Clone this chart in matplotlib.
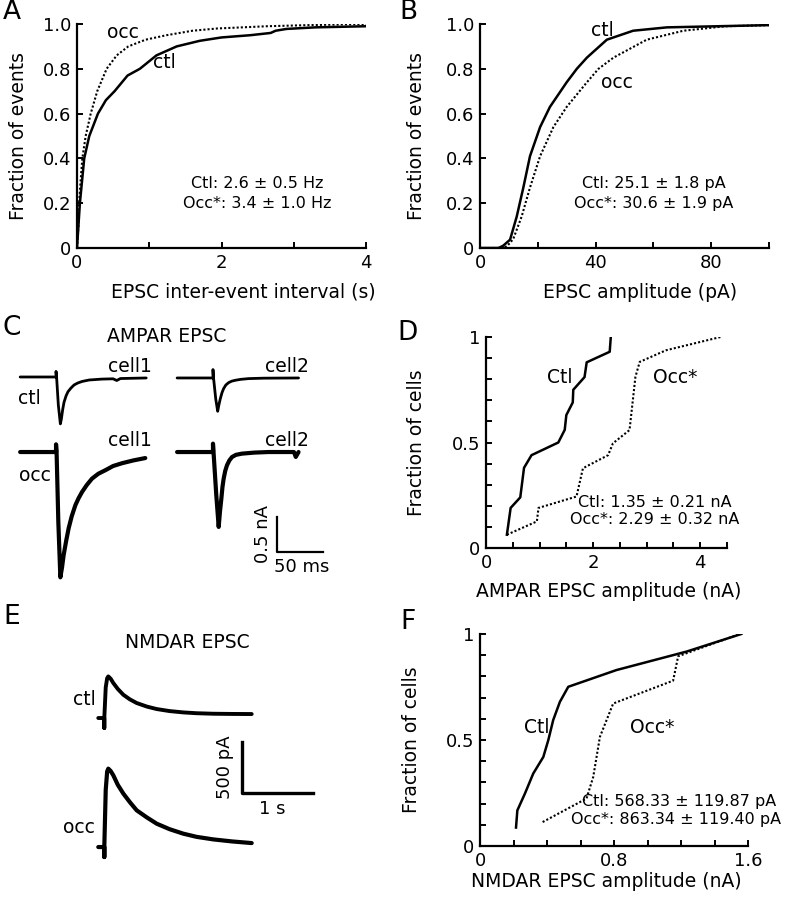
import matplotlib
matplotlib.use("Agg")
import matplotlib.pyplot as plt
import numpy as np

plt.rcParams['font.family'] = ['DejaVu Sans']

W, H = 787, 899

# ---------------- Data ----------------
# Panel A: cumulative inter-event interval (s)
a_ctl_x = [0.0, 0.02, 0.04, 0.07, 0.1, 0.17, 0.29, 0.4, 0.52, 0.7, 0.87, 1.1, 1.38, 1.7, 2.0, 2.4, 2.68, 2.75, 2.9, 3.3, 4.0]
a_ctl_y = [0.0, 0.1, 0.2, 0.3, 0.4, 0.5, 0.6, 0.66, 0.7, 0.77, 0.8, 0.86, 0.9, 0.925, 0.94, 0.95, 0.96, 0.97, 0.978, 0.985, 0.99]
a_occ_x = [0.0, 0.02, 0.03, 0.05, 0.074, 0.12, 0.19, 0.28, 0.41, 0.55, 0.71, 0.95, 1.24, 1.6, 1.94, 2.63, 3.2, 4.0]
a_occ_y = [0.0, 0.1, 0.2, 0.3, 0.4, 0.5, 0.6, 0.7, 0.8, 0.86, 0.9, 0.93, 0.95, 0.97, 0.98, 0.99, 0.995, 1.0]

# Panel B: cumulative EPSC amplitude (pA)
b_ctl_x = [0, 6.4, 8.0, 10.4, 12.7, 15.0, 17.3, 20.8, 24.2, 30.0, 33.5, 37.0, 43.9, 53.0, 64.7, 100]
b_ctl_y = [0, 0.0, 0.01, 0.037, 0.14, 0.27, 0.41, 0.54, 0.63, 0.74, 0.8, 0.85, 0.93, 0.97, 0.985, 0.995]
b_occ_x = [0, 8.1, 9.5, 11.5, 14.4, 17.3, 20.8, 25.4, 30.0, 37.0, 41.0, 46.2, 57.7, 70.4, 85.0, 100]
b_occ_y = [0, 0.0, 0.01, 0.04, 0.14, 0.27, 0.41, 0.54, 0.63, 0.74, 0.8, 0.85, 0.93, 0.97, 0.99, 0.995]

# Panel D: cumulative AMPAR EPSC amplitude per cell (nA)
d_ctl_x = [0.39, 0.46, 0.64, 0.71, 0.85, 1.35, 1.47, 1.50, 1.62, 1.63, 1.84, 1.88, 2.31, 2.33]
d_ctl_y = [0.063, 0.19, 0.24, 0.38, 0.44, 0.50, 0.56, 0.63, 0.69, 0.75, 0.81, 0.88, 0.93, 1.0]
d_occ_x = [0.39, 0.95, 0.98, 1.69, 1.81, 2.28, 2.37, 2.68, 2.79, 2.87, 3.36, 4.38]
d_occ_y = [0.063, 0.126, 0.19, 0.244, 0.378, 0.44, 0.496, 0.559, 0.811, 0.882, 0.937, 1.0]

# Panel F: cumulative NMDAR EPSC amplitude per cell (nA)
f_ctl_x = [0.215, 0.223, 0.268, 0.318, 0.378, 0.408, 0.437, 0.477, 0.527, 0.815, 1.233, 1.56]
f_ctl_y = [0.087, 0.168, 0.247, 0.342, 0.42, 0.50, 0.594, 0.68, 0.751, 0.83, 0.917, 1.0]
f_occ_x = [0.374, 0.636, 0.676, 0.716, 0.795, 1.153, 1.183, 1.55]
f_occ_y = [0.113, 0.224, 0.326, 0.515, 0.672, 0.78, 0.895, 1.0]

# Panel C: AMPAR EPSC traces (time ms from stimulus, current nA from baseline)
c_ctl1_t = [-39, 0, 0, 0.6, 2.5, 4.7, 5.8, 7.3, 8.7, 10.9, 13, 16.3, 19.6, 23.6, 28.3, 35.9, 50, 62, 66, 70, 98]
c_ctl1_i = [0, 0, 0.08, 0, -0.4, -0.67, -0.6, -0.46, -0.36, -0.27, -0.21, -0.157, -0.114, -0.086, -0.064, -0.043, -0.03, -0.026, -0.05, -0.022, -0.014]
c_ctl2_t = [-39, 0, 0, 0.6, 3, 5.1, 6.5, 8.0, 9.8, 11.6, 14, 17.1, 20.5, 24.3, 30, 38.8, 55, 93]
c_ctl2_i = [0, 0, 0.12, 0, -0.3, -0.476, -0.38, -0.294, -0.21, -0.151, -0.1, -0.066, -0.045, -0.033, -0.02, -0.009, -0.003, 0]
c_occ1_t = [-39, 0, 0, 0.6, 2.5, 4.7, 6.5, 8.3, 11, 13.7, 17, 21, 24.5, 28.3, 33.5, 39.1, 46, 53.6, 62, 71.7, 84, 97]
c_occ1_i = [0, 0, 0.11, 0, -1.0, -1.79, -1.65, -1.47, -1.27, -1.09, -0.92, -0.76, -0.66, -0.57, -0.47, -0.38, -0.31, -0.26, -0.2, -0.16, -0.12, -0.086]
c_occ2_t = [-39, 0, 0, 0.6, 3.5, 6.2, 7.6, 9.1, 10.3, 11.6, 13.3, 15.2, 17.8, 20.7, 25, 31.5, 45, 60.5, 88, 90, 93]
c_occ2_i = [0, 0, 0.12, 0, -0.6, -1.07, -0.85, -0.666, -0.5, -0.38, -0.27, -0.19, -0.12, -0.071, -0.04, -0.023, -0.008, 0, 0, -0.07, 0]

# Panel E: NMDAR EPSC traces (time s from stimulus, current pA from baseline)
e_ctl_t = [-0.085, 0, 0, 0.0, 0.02, 0.04, 0.056, 0.09, 0.127, 0.19, 0.268, 0.36, 0.456, 0.6, 0.738, 0.92, 1.113, 1.3, 1.535, 1.8, 2.076]
e_ctl_i = [0, 0, -98, 0, 300, 390, 408, 385, 343, 285, 228, 183, 147, 112, 88, 68, 55, 47, 42, 40, 39]
e_occ_t = [-0.085, 0, 0, 0.0, 0.02, 0.04, 0.056, 0.09, 0.127, 0.19, 0.268, 0.36, 0.456, 0.6, 0.738, 0.92, 1.113, 1.3, 1.535, 1.8, 2.076]
e_occ_i = [0, 0, -98, 0, 560, 740, 769, 745, 703, 610, 524, 440, 360, 290, 229, 175, 131, 100, 75, 55, 39]

FS_TICK = 13
FS_LAB = 13.5
FS_STAT = 11.5
FS_PANEL = 19

fig = plt.figure(figsize=(W / 100, H / 100), dpi=100)


def ax_px(x0, y0, x1, y1):
    return fig.add_axes([x0 / W, 1 - y1 / H, (x1 - x0) / W, (y1 - y0) / H])


def style(ax):
    for s in ['top', 'right']:
        ax.spines[s].set_visible(False)
    for s in ['left', 'bottom']:
        ax.spines[s].set_linewidth(1.6)
    ax.tick_params(which='both', direction='in', width=1.4, labelsize=FS_TICK, pad=4)
    ax.tick_params(which='major', length=4)
    ax.tick_params(which='minor', length=4)


def atext(ax, x, y, s, fs, ha='center'):
    ax.text(x, y, s, fontsize=fs, ha=ha, va='center', transform=ax.transAxes)


# ---------- Panel A ----------
axA = ax_px(77, 24, 366, 248)
style(axA)
axA.plot(a_ctl_x, a_ctl_y, color='black', lw=1.8)
axA.plot(a_occ_x, a_occ_y, color='black', lw=1.5, ls=(0, (1, 1)))
axA.set_xlim(0, 4)
axA.set_ylim(0, 1.0)
axA.set_xticks([0, 2, 4])
axA.set_xticks([1, 3], minor=True)
axA.set_yticks([0, 0.2, 0.4, 0.6, 0.8, 1.0])
axA.set_yticklabels(['0', '0.2', '0.4', '0.6', '0.8', '1.0'])
axA.set_xlabel('EPSC inter-event interval (s)', fontsize=FS_LAB)
axA.set_ylabel('Fraction of events', fontsize=FS_LAB)
axA.xaxis.set_label_coords(0.574, -0.155)
axA.yaxis.set_label_coords(-0.17, 0.5)
atext(axA, 0.159, 0.96, 'occ', FS_LAB)
atext(axA, 0.304, 0.826, 'ctl', FS_LAB)
atext(axA, 0.623, 0.286, 'Ctl: 2.6 ± 0.5 Hz', FS_STAT)
atext(axA, 0.623, 0.2, 'Occ*: 3.4 ± 1.0 Hz', FS_STAT)

# ---------- Panel B ----------
axB = ax_px(480, 24, 769, 248)
style(axB)
axB.plot(b_ctl_x, b_ctl_y, color='black', lw=1.8)
axB.plot(b_occ_x, b_occ_y, color='black', lw=1.5, ls=(0, (1, 1)))
axB.set_xlim(0, 100)
axB.set_ylim(0, 1.0)
axB.set_xticks([0, 40, 80])
axB.set_xticks([20, 60, 100], minor=True)
axB.set_yticks([0, 0.2, 0.4, 0.6, 0.8, 1.0])
axB.set_yticklabels(['0', '0.2', '0.4', '0.6', '0.8', '1.0'])
axB.set_xlabel('EPSC amplitude (pA)', fontsize=FS_LAB)
axB.set_ylabel('Fraction of events', fontsize=FS_LAB)
axB.xaxis.set_label_coords(0.555, -0.155)
axB.yaxis.set_label_coords(-0.187, 0.5)
atext(axB, 0.422, 0.973, 'ctl', FS_LAB)
atext(axB, 0.474, 0.737, 'occ', FS_LAB)
atext(axB, 0.6, 0.286, 'Ctl: 25.1 ± 1.8 pA', FS_STAT)
atext(axB, 0.6, 0.2, 'Occ*: 30.6 ± 1.9 pA', FS_STAT)

# ---------- Panel D ----------
axD = ax_px(486, 337, 727, 548)
style(axD)
axD.plot(d_ctl_x, d_ctl_y, color='black', lw=1.8)
axD.plot(d_occ_x, d_occ_y, color='black', lw=1.5, ls=(0, (1, 1)))
axD.set_xlim(0, 4.48)
axD.set_ylim(0, 1.0)
axD.set_xticks([0, 2, 4])
axD.set_xticks([0.5, 1, 1.5, 2.5, 3, 3.5, 4.5], minor=True)
axD.set_yticks([0, 0.5, 1])
axD.set_yticklabels(['0', '0.5', '1'])
axD.set_yticks([0.1, 0.2, 0.3, 0.4, 0.6, 0.7, 0.8, 0.9], minor=True)
axD.set_xlabel('AMPAR EPSC amplitude (nA)', fontsize=FS_LAB)
axD.set_ylabel('Fraction of cells', fontsize=FS_LAB)
axD.xaxis.set_label_coords(0.51, -0.16)
axD.yaxis.set_label_coords(-0.25, 0.5)
atext(axD, 0.307, 0.81, 'Ctl', FS_LAB)
atext(axD, 0.784, 0.81, 'Occ*', FS_LAB)
atext(axD, 0.70, 0.218, 'Ctl: 1.35 ± 0.21 nA', FS_STAT)
atext(axD, 0.70, 0.137, 'Occ*: 2.29 ± 0.32 nA', FS_STAT)

# ---------- Panel F ----------
axF = ax_px(480, 634, 748, 846)
style(axF)
axF.plot(f_ctl_x, f_ctl_y, color='black', lw=1.8)
axF.plot(f_occ_x, f_occ_y, color='black', lw=1.5, ls=(0, (1, 1)))
axF.set_xlim(0, 1.6)
axF.set_ylim(0, 1.0)
axF.set_xticks([0, 0.8, 1.6])
axF.set_xticklabels(['0', '0.8', '1.6'])
axF.set_xticks([0.2, 0.4, 0.6, 1.0, 1.2, 1.4], minor=True)
axF.set_yticks([0, 0.5, 1])
axF.set_yticklabels(['0', '0.5', '1'])
axF.set_yticks([0.1, 0.2, 0.3, 0.4, 0.6, 0.7, 0.8, 0.9], minor=True)
axF.set_xlabel('NMDAR EPSC amplitude (nA)', fontsize=FS_LAB)
axF.set_ylabel('Fraction of cells', fontsize=FS_LAB)
axF.xaxis.set_label_coords(0.47, -0.122)
axF.yaxis.set_label_coords(-0.22, 0.5)
atext(axF, 0.213, 0.561, 'Ctl', FS_LAB)
atext(axF, 0.642, 0.561, 'Occ*', FS_LAB)
atext(axF, 1.105, 0.208, 'Ctl: 568.33 ± 119.87 pA', FS_STAT, ha='right')
atext(axF, 1.125, 0.123, 'Occ*: 863.34 ± 119.40 pA', FS_STAT, ha='right')

# ---------- Panel C (traces) ----------
# axes spans pixels x 15..335, y 330..590 ; units ms / nA
axC = ax_px(15, 330, 335, 590)
axC.set_xlim(0, 320 / 0.92)
axC.set_ylim(0, 260 / 70)
axC.axis('off')


def tr(ax, t, i, x0, y0, lw):
    ax.plot(np.asarray(t) + x0, np.asarray(i) + y0, color='black', lw=lw,
            solid_joinstyle='round', solid_capstyle='round')


tr(axC, c_ctl1_t, c_ctl1_i, 44.6, 3.043, 2.0)
tr(axC, c_ctl2_t, c_ctl2_i, 215.2, 3.029, 2.0)
tr(axC, c_occ1_t, c_occ1_i, 44.6, 1.971, 3.0)
tr(axC, c_occ2_t, c_occ2_i, 215.2, 1.971, 3.0)
# scale bar 0.5 nA / 50 ms
axC.plot([284.8, 284.8, 334.8], [1.043, 0.543, 0.543], color='black', lw=1.6)
axC.text(270, 0.793, '0.5 nA', rotation=90, ha='center', va='center', fontsize=FS_TICK)
axC.text(312, 0.33, '50 ms', ha='center', va='center', fontsize=FS_TICK)
axC.text(165, 3.62, 'AMPAR EPSC', ha='center', va='center', fontsize=FS_LAB)
axC.text(125, 3.19, 'cell1', ha='center', va='center', fontsize=FS_LAB)
axC.text(296, 3.19, 'cell2', ha='center', va='center', fontsize=FS_LAB)
axC.text(125, 2.14, 'cell1', ha='center', va='center', fontsize=FS_LAB)
axC.text(296, 2.14, 'cell2', ha='center', va='center', fontsize=FS_LAB)
axC.text(16, 2.73, 'ctl', ha='center', va='center', fontsize=FS_LAB)
axC.text(22, 1.64, 'occ', ha='center', va='center', fontsize=FS_LAB)

# ---------- Panel E (traces) ----------
# axes spans pixels x 60..330, y 630..870 ; units s / pA
axE = ax_px(60, 630, 330, 870)
axE.set_xlim(0, 270 / 71)
axE.set_ylim(0, 240 / 0.102)
axE.axis('off')
tr(axE, e_ctl_t, e_ctl_i, 0.624, 1490, 2.8)
tr(axE, e_occ_t, e_occ_i, 0.624, 225, 3.0)
axE.plot([2.56, 2.56, 3.56], [1255, 755, 755], color='black', lw=2.4)
axE.text(2.33, 1005, '500 pA', rotation=90, ha='center', va='center', fontsize=FS_TICK)
axE.text(2.99, 600, '1 s', ha='center', va='center', fontsize=FS_TICK)
axE.text(1.8, 2230, 'NMDAR EPSC', ha='center', va='center', fontsize=FS_LAB)
axE.text(0.35, 1670, 'ctl', ha='center', va='center', fontsize=FS_LAB)
axE.text(0.27, 420, 'occ', ha='center', va='center', fontsize=FS_LAB)

# ---------- Panel letters ----------
for lab, (px, py) in {'A': (12, 12), 'B': (408, 12), 'C': (12, 328),
                      'D': (408, 333), 'E': (12, 617), 'F': (408, 622)}.items():
    fig.text(px / W, 1 - py / H, lab, fontsize=FS_PANEL, ha='center', va='center')

fig.savefig('out.png', dpi=100)
